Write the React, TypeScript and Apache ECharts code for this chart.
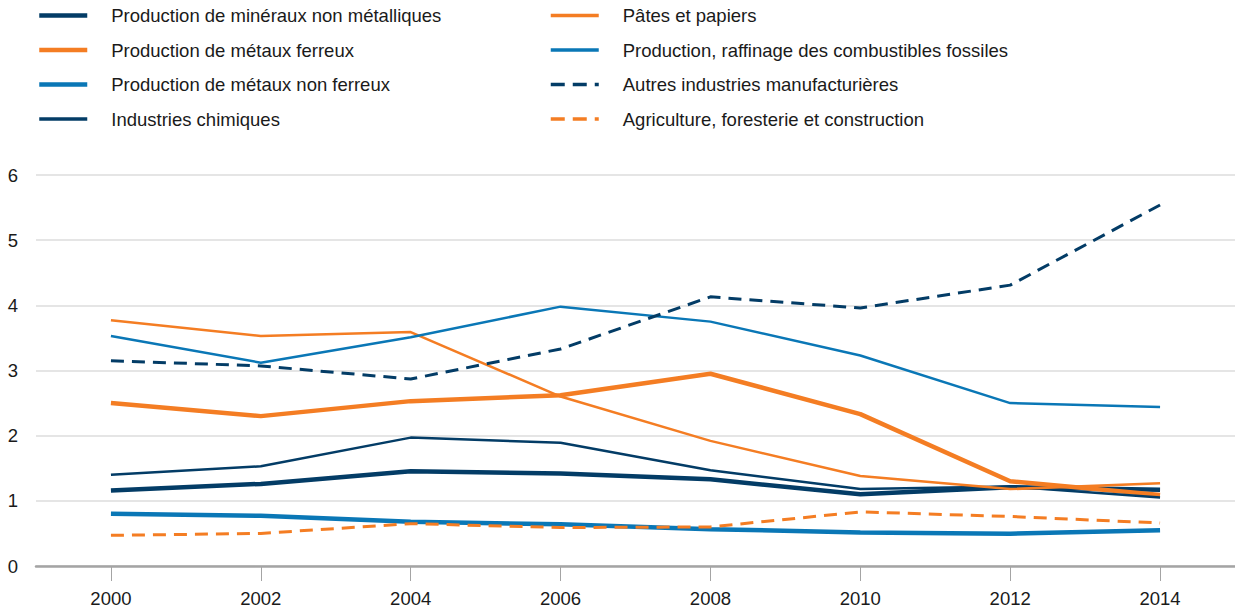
import React, { useEffect, useRef } from "react";
import * as echarts from "echarts";

const years = [2000, 2002, 2004, 2006, 2008, 2010, 2012, 2014];
const yTicks = [0, 1, 2, 3, 4, 5, 6];

const mineraux = [1.16, 1.26, 1.455, 1.42, 1.33, 1.1, 1.21, 1.17];
const ferreux = [2.5, 2.3, 2.53, 2.62, 2.95, 2.33, 1.3, 1.09];
const nonFerreux = [0.8, 0.77, 0.68, 0.64, 0.565, 0.515, 0.495, 0.55];
const chimiques = [1.4, 1.53, 1.97, 1.89, 1.47, 1.18, 1.22, 1.05];
const papiers = [3.77, 3.53, 3.59, 2.6, 1.92, 1.38, 1.18, 1.27];
const fossiles = [3.53, 3.12, 3.51, 3.98, 3.75, 3.23, 2.5, 2.44];
const autres = [3.15, 3.07, 2.87, 3.33, 4.13, 3.96, 4.31, 5.54];
const agriculture = [0.47, 0.5, 0.65, 0.59, 0.6, 0.83, 0.76, 0.66];

const NAVY = "#033c66";
const ORANGE = "#f47d23";
const BLUE = "#0a77b6";
const FONT = "Liberation Sans";
const FS = 18.5;

type S = { name: string; data: number[]; color: string; width: number; dashed?: boolean; legendWidth: number };

const seriesDefs: S[] = [
  { name: "Production de minéraux non métalliques", data: mineraux, color: NAVY, width: 4.5, legendWidth: 4.5 },
  { name: "Production de métaux ferreux", data: ferreux, color: ORANGE, width: 4.5, legendWidth: 4.5 },
  { name: "Production de métaux non ferreux", data: nonFerreux, color: BLUE, width: 4.5, legendWidth: 4.5 },
  { name: "Industries chimiques", data: chimiques, color: NAVY, width: 2.5, legendWidth: 3.5 },
  { name: "Pâtes et papiers", data: papiers, color: ORANGE, width: 2.5, legendWidth: 3.5 },
  { name: "Production, raffinage des combustibles fossiles", data: fossiles, color: BLUE, width: 2.5, legendWidth: 3.5 },
  { name: "Autres industries manufacturières", data: autres, color: NAVY, width: 3, dashed: true, legendWidth: 3.5 },
  { name: "Agriculture, foresterie et construction", data: agriculture, color: ORANGE, width: 3, dashed: true, legendWidth: 3.5 },
];

export default function App() {
  const ref = useRef<HTMLDivElement>(null);
  useEffect(() => {
    if (!ref.current) return;
    const chart = echarts.init(ref.current, undefined, { renderer: "svg" });
    const legendCommon = {
      orient: "vertical" as const,
      top: 6,
      padding: 0,
      itemWidth: 48,
      itemHeight: 16,
      itemGap: 15.5,
      selectedMode: false,
      textStyle: {
        fontFamily: FONT,
        fontSize: FS,
        color: "#1a1a1a",
        lineHeight: 16,
        padding: [0, 0, 0, 19],
      },
    };
    const legendData = (defs: S[]) =>
      defs.map((d) => ({
        name: d.name,
        itemStyle: { opacity: 0 },
        lineStyle: {
          width: d.legendWidth,
          color: d.color,
          opacity: 1,
          type: d.dashed ? [14, 8] : "solid",
        },
      }));
    chart.setOption({
      animation: false,
      textStyle: { fontFamily: FONT },
      legend: [
        { ...legendCommon, left: 37, data: legendData(seriesDefs.slice(0, 4)) },
        { ...legendCommon, left: 549, data: legendData(seriesDefs.slice(4)) },
      ],
      grid: { left: 36, right: 0, top: 175, bottom: 44, containLabel: false },
      xAxis: {
        type: "value",
        min: 1999,
        max: 2015,
        axisLine: { show: true, lineStyle: { color: "#a4a4a4", width: 2.5 } },
        axisTick: {
          show: true,
          length: 15,
          customValues: years,
          lineStyle: { color: "#a4a4a4", width: 1 },
        },
        axisLabel: {
          customValues: years,
          margin: 23,
          fontSize: FS,
          color: "#1a1a1a",
          fontFamily: FONT,
          formatter: (v: number) => String(v),
        },
        splitLine: { show: false },
      },
      yAxis: {
        type: "value",
        min: yTicks[0],
        max: yTicks[yTicks.length - 1],
        interval: 1,
        axisLine: { show: false },
        axisTick: { show: false },
        axisLabel: {
          margin: 18,
          fontSize: FS,
          color: "#1a1a1a",
          fontFamily: FONT,
        },
        splitLine: { lineStyle: { color: "#dcdcdc", width: 1.5 } },
      },
      series: seriesDefs.map((d) => ({
        name: d.name,
        type: "line",
        data: years.map((y, i) => [y, d.data[i]]),
        showSymbol: false,
        symbol: "none",
        color: d.color,
        lineStyle: {
          color: d.color,
          width: d.width,
          type: d.dashed ? [13, 8] : "solid",
        },
      })),
    });
    return () => chart.dispose();
  }, []);
  return (
    <div
      ref={ref}
      style={{ position: "fixed", left: 0, top: 0, width: 1235, height: 610, background: "#fff" }}
    />
  );
}
